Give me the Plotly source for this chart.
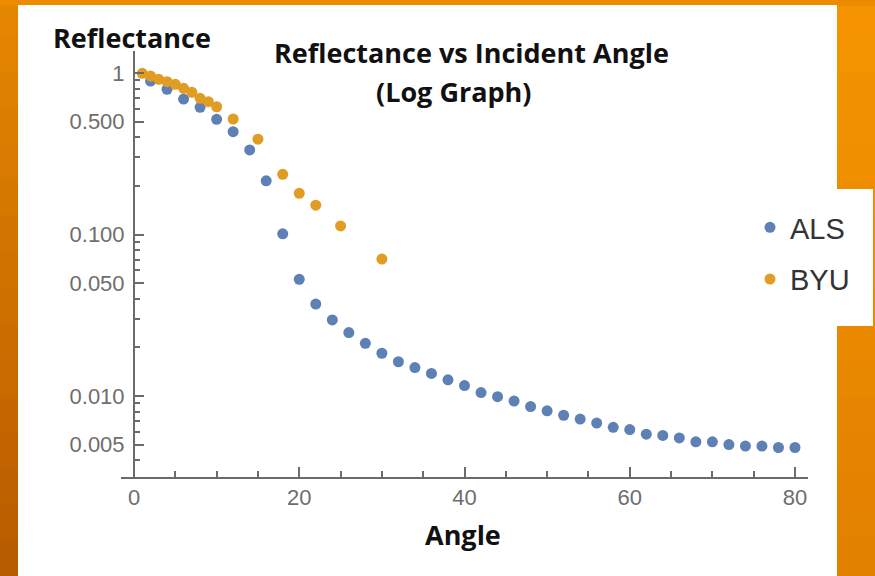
import plotly.graph_objects as go

# ---- data -------------------------------------------------------------
als_angle = [2, 4, 6, 8, 10, 12, 14, 16, 18, 20,
             22, 24, 26, 28, 30, 32, 34, 36, 38, 40,
             42, 44, 46, 48, 50, 52, 54, 56, 58, 60,
             62, 64, 66, 68, 70, 72, 74, 76, 78, 80]
als_refl = [0.892, 0.793, 0.690, 0.613, 0.517, 0.433, 0.334, 0.215, 0.101, 0.0528,
            0.0371, 0.0296, 0.0247, 0.0212, 0.0184, 0.0163, 0.0150, 0.0138, 0.0126, 0.0116,
            0.0105, 0.0099, 0.0093, 0.0086, 0.0081, 0.0076, 0.0072, 0.0068, 0.0064, 0.0062,
            0.0058, 0.0057, 0.0055, 0.0052, 0.0052, 0.0050, 0.0049, 0.0049, 0.0048, 0.0048]

byu_angle = [1, 2, 3, 4, 5, 6, 7, 8, 9, 10, 12, 15, 18, 20, 22, 25, 30]
byu_refl = [0.996, 0.958, 0.914, 0.883, 0.851, 0.804, 0.760, 0.697, 0.664, 0.618,
            0.519, 0.389, 0.236, 0.180, 0.152, 0.113, 0.0705]

y_tickvals = [0.005, 0.01, 0.05, 0.1, 0.5, 1]
y_ticktext = ["0.005", "0.010", "0.050", "0.100", "0.500", "1"]
y_minor = [0.004, 0.006, 0.007, 0.008, 0.009,
           0.02, 0.03, 0.04, 0.06, 0.07, 0.08, 0.09,
           0.2, 0.3, 0.4, 0.6, 0.7, 0.8, 0.9]
x_tickvals = [0, 20, 40, 60, 80]
x_minor = [5, 10, 15, 25, 30, 35, 45, 50, 55, 65, 70, 75]

# ---- geometry helpers (pixel -> paper) --------------------------------
W, H = 875, 576
L, R, T, B = 121, 67, 51, 99
PW, PH = W - L - R, H - T - B


def px(p):
    return (p - L) / PW


def py(p):
    return (H - B - p) / PH


BLUE = "#5E81B5"
ORANGE = "#E19C24"
AXIS = "#6b6b6b"
TICKFONT = dict(family="Liberation Sans, Arial, sans-serif", size=22, color="#6e6e6e")
BOLD = dict(family="Open Sans, sans-serif", size=27, color="#111111", weight="bold")

fig = go.Figure()
fig.add_trace(go.Scatter(
    x=als_angle, y=als_refl, mode="markers", name="ALS", legendgroup="als",
    marker=dict(color=BLUE, size=11),
))
fig.add_trace(go.Scatter(
    x=byu_angle, y=byu_refl, mode="markers", name="BYU", legendgroup="byu",
    marker=dict(color=ORANGE, size=11),
))

# ---- slide background: orange bands and white panels ------------------
def lerp(c0, c1, t):
    return "rgb(%d,%d,%d)" % tuple(round(a + (b - a) * t) for a, b in zip(c0, c1))


shapes = []
n = 16
for i in range(n):
    t = i / (n - 1)
    y0, y1 = H * i / n, H * (i + 1) / n
    # left strip
    shapes.append(dict(type="rect", xref="paper", yref="paper", layer="below",
                       x0=px(0), x1=px(19), y0=py(y1), y1=py(y0), line_width=0,
                       fillcolor=lerp((228, 134, 0), (184, 92, 0), t)))
    # right strip
    shapes.append(dict(type="rect", xref="paper", yref="paper", layer="below",
                       x0=px(836), x1=px(W), y0=py(y1), y1=py(y0), line_width=0,
                       fillcolor=lerp((245, 148, 0), (226, 128, 0), t)))
# top strip
shapes.append(dict(type="rect", xref="paper", yref="paper", layer="below",
                   x0=px(0), x1=px(W), y0=py(6), y1=py(0), line_width=0,
                   fillcolor="#EC8A00"))
# white chart panel
shapes.append(dict(type="rect", xref="paper", yref="paper", layer="below",
                   x0=px(18), x1=px(837), y0=py(H), y1=py(5), line_width=0,
                   fillcolor="white"))
# white legend panel
shapes.append(dict(type="rect", xref="paper", yref="paper", layer="below",
                   x0=px(740), x1=px(873), y0=py(326), y1=py(189), line_width=0,
                   fillcolor="white"))

annotations = [
    dict(text="Reflectance", x=px(132), y=py(38)),
    dict(text="Reflectance vs Incident Angle", x=px(471), y=py(52)),
    dict(text="(Log Graph)", x=px(454), y=py(92)),
    dict(text="Angle", x=px(463), y=py(534)),
]
for a in annotations:
    a.update(xref="paper", yref="paper", xanchor="center", yanchor="middle",
             showarrow=False, font=BOLD)

fig.update_layout(
    width=W, height=H,
    margin=dict(l=L, r=R, t=T, b=B),
    paper_bgcolor="#E38A00",
    plot_bgcolor="white",
    shapes=shapes,
    annotations=annotations,
    showlegend=True,
    legend=dict(
        x=px(750), y=py(202), xanchor="left", yanchor="top",
        bgcolor="rgba(0,0,0,0)",
        font=dict(family="Liberation Sans, Arial, sans-serif", size=29, color="#333333"),
        tracegroupgap=11,
    ),
    xaxis=dict(
        range=[(121 - 134) / 8.2625, (808 - 134) / 8.2625],
        showgrid=False, zeroline=False,
        showline=True, linecolor=AXIS, linewidth=2,
        tickmode="array", tickvals=x_tickvals,
        ticks="inside", ticklen=10, tickwidth=1.5, tickcolor=AXIS,
        minor=dict(tickvals=x_minor, ticks="inside", ticklen=6,
                   tickwidth=1.5, tickcolor=AXIS),
        tickfont=TICKFONT, ticklabelstandoff=0,
    ),
    yaxis=dict(
        type="log",
        range=[-2.5015, 0.1362],
        anchor="free", position=px(134),
        showgrid=False, zeroline=False,
        showline=True, linecolor=AXIS, linewidth=2,
        tickmode="array", tickvals=y_tickvals, ticktext=y_ticktext,
        ticks="inside", ticklen=9, tickwidth=1.5, tickcolor=AXIS,
        minor=dict(tickvals=y_minor, ticks="inside", ticklen=5,
                   tickwidth=1.5, tickcolor=AXIS),
        tickfont=TICKFONT, ticklabelstandoff=4,
    ),
)

fig.write_html("out.html")
